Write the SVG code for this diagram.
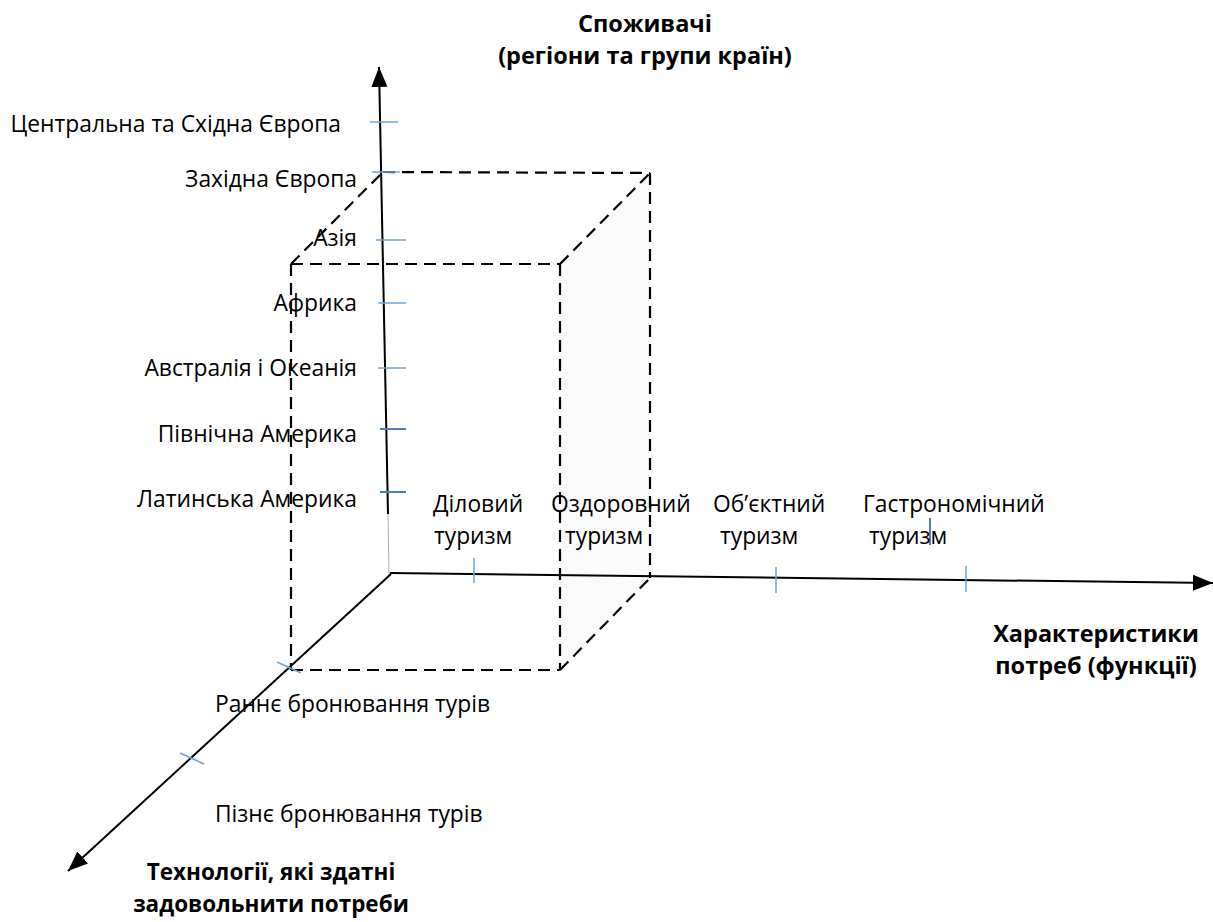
<svg xmlns="http://www.w3.org/2000/svg" width="1213" height="922" viewBox="0 0 1213 922">
<style>
  .lbl { font-family: "Open Sans", "Liberation Sans", sans-serif; font-size: 22.8px; fill: #000; }
  .ttl { font-family: "Open Sans", "Liberation Sans", sans-serif; font-size: 23.5px; font-weight: bold; fill: #000; }
  .ttl2 { font-family: "Open Sans", "Liberation Sans", sans-serif; font-size: 22.5px; font-weight: bold; fill: #000; }
  .dash { fill: none; stroke: #000; stroke-width: 2.2; stroke-dasharray: 12 7; }
  .axis { fill: none; stroke: #000; stroke-width: 2; }
  .tick { stroke: #6fa3db; stroke-width: 1.5; }
  .tick2 { stroke: #4a7ebf; stroke-width: 2; }
</style>
<defs>
  <marker id="arr" markerUnits="userSpaceOnUse" markerWidth="22" markerHeight="18" refX="20" refY="8" orient="auto">
    <path d="M0,0 L20,8 L0,16 z" fill="#000"/>
  </marker>
</defs>
<rect width="1213" height="922" fill="#fff"/>

<g id="cube">
  <polygon points="560,264 650,173 650,578 560,670" fill="#fafafa"/>
  <line class="dash" x1="291" y1="264" x2="560" y2="264"/>
  <line class="dash" x1="291" y1="264" x2="291" y2="670"/>
  <line class="dash" x1="291" y1="670" x2="560" y2="670"/>
  <line class="dash" x1="560" y1="264" x2="560" y2="670"/>
  <line class="dash" x1="383" y1="172" x2="650" y2="173"/>
  <line class="dash" x1="650" y1="173" x2="650" y2="578"/>
  <line class="dash" x1="291" y1="264" x2="383" y2="172"/>
  <line class="dash" x1="560" y1="264" x2="650" y2="173"/>
  <line class="dash" x1="560" y1="670" x2="650" y2="578"/>
</g>

<g id="connectors">
  <line x1="388" y1="514" x2="389" y2="575" stroke="#aaa" stroke-width="1"/>
  <line class="axis" x1="388" y1="514" x2="379" y2="67" marker-end="url(#arr)"/>
  <line class="axis" x1="390" y1="573" x2="1213" y2="583" marker-end="url(#arr)"/>
  <line class="axis" x1="391" y1="574" x2="68" y2="871" marker-end="url(#arr)"/>
</g>

<g id="ticks">
  <line class="tick" x1="370" y1="122" x2="398" y2="122"/>
  <line class="tick" x1="372" y1="172" x2="400" y2="172"/>
  <line class="tick" x1="376" y1="240" x2="406" y2="240"/>
  <line class="tick" x1="378" y1="303" x2="406" y2="303"/>
  <line class="tick" x1="378" y1="368" x2="406" y2="368"/>
  <line class="tick2" x1="380" y1="429" x2="406" y2="429"/>
  <line class="tick2" x1="380" y1="492" x2="406" y2="492"/>
  <line class="tick" x1="474" y1="558" x2="474" y2="583"/>
  <line class="tick" x1="776" y1="567" x2="776" y2="593"/>
  <line class="tick" x1="966" y1="566" x2="966" y2="592"/>
  <line class="tick2" x1="930" y1="518" x2="930" y2="545" stroke-width="2.5"/>
  <line class="tick" x1="277" y1="662" x2="301" y2="673"/>
  <line class="tick" x1="180" y1="753" x2="204" y2="764"/>
</g>

<g id="consumers-title">
  <text class="ttl" x="645" y="32" text-anchor="middle">Споживачі</text>
  <text class="ttl" x="645" y="64" text-anchor="middle">(регіони та групи країн)</text>
</g>
<g id="y-labels">
  <text class="lbl" x="341" y="132" text-anchor="end">Центральна та Східна Європа</text>
  <text class="lbl" x="357" y="187" text-anchor="end">Західна Європа</text>
  <text class="lbl" x="357" y="246" text-anchor="end">Азія</text>
  <text class="lbl" x="357" y="311" text-anchor="end">Африка</text>
  <text class="lbl" x="357" y="376" text-anchor="end">Австралія і Океанія</text>
  <text class="lbl" x="357" y="442" text-anchor="end">Північна Америка</text>
  <text class="lbl" x="357" y="507" text-anchor="end">Латинська Америка</text>
</g>
<g id="x-labels">
  <text class="lbl" x="433" y="512">Діловий</text>
  <text class="lbl" x="434" y="544">туризм</text>
  <text class="lbl" x="551" y="512">Оздоровний</text>
  <text class="lbl" x="565" y="544">туризм</text>
  <text class="lbl" x="713" y="512">Об’єктний</text>
  <text class="lbl" x="720" y="544">туризм</text>
  <text class="lbl" x="863" y="512">Гастрономічний</text>
  <text class="lbl" x="869" y="544">туризм</text>
</g>
<g id="needs-title">
  <text class="ttl" x="1096" y="642" text-anchor="middle">Характеристики</text>
  <text class="ttl" x="1096" y="674" text-anchor="middle">потреб (функції)</text>
</g>
<g id="z-labels">
  <text class="lbl" x="215" y="712">Раннє бронювання турів</text>
  <text class="lbl" x="215" y="822">Пізнє бронювання турів</text>
</g>
<g id="tech-title">
  <text class="ttl2" x="271" y="880" text-anchor="middle">Технології, які здатні</text>
  <text class="ttl2" x="271" y="912" text-anchor="middle">задовольнити потреби</text>
</g>
</svg>
